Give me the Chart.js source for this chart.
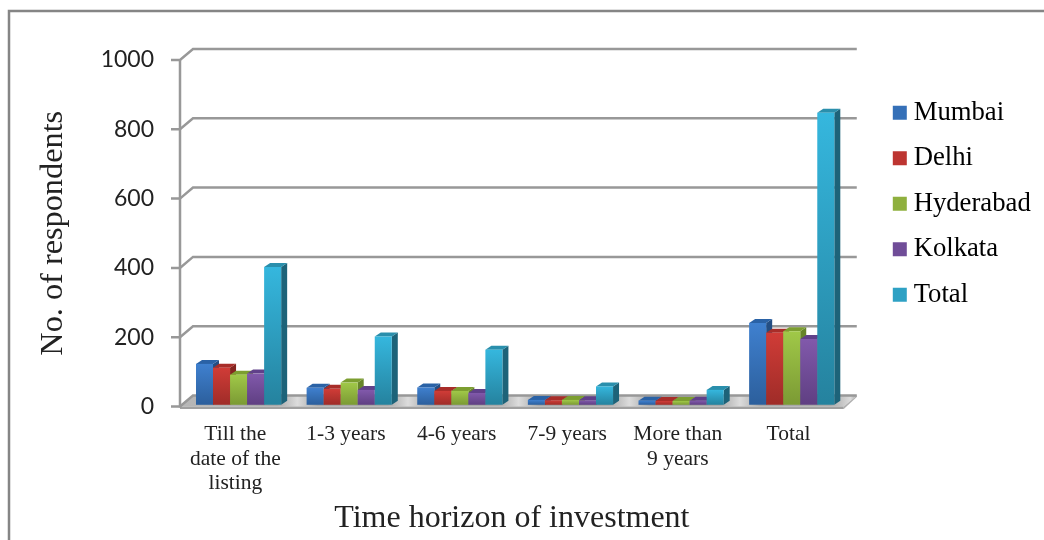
<!DOCTYPE html>
<html>
<head>
<meta charset="utf-8">
<title>Time horizon of investment</title>
<script src="https://cdn.jsdelivr.net/npm/chart.js@4"></script>
<style>
    html, body { margin: 0; padding: 0; background: #fff; }
    #wrap { width: 1044px; height: 540px; overflow: hidden; }
</style>
</head>
<body>
<div id="wrap"><canvas id="myChart" width="1044" height="540"></canvas></div>
<script>
var categorias = [['Till the', 'date of the', 'listing'], '1-3 years', '4-6 years', '7-9 years', ['More than', '9 years'], 'Total'];

var mumbai = [118, 49, 50, 14, 12, 236];
var delhi = [107, 46, 40, 13, 11, 208];
var hyderabad = [87, 64, 40, 14, 11, 212];
var kolkata = [90, 43, 34, 13, 12, 190];
var total = [398, 197, 159, 53, 43, 843];

var escalaY = [0, 200, 400, 600, 800, 1000];

var SERIF = '"Liberation Serif", "Times New Roman", serif';

// colours per series: top of the front face, bottom of the front face, lid, side, legend swatch
var colores = {
    Mumbai: ['#3f80cf', '#2c5f9c', '#2a62a6', '#234e84', '#3570b8'],
    Delhi: ['#d03c37', '#9f2c28', '#a82d29', '#84241f', '#bd3531'],
    Hyderabad: ['#a0c848', '#7b9a34', '#7c9e30', '#66842a', '#8fb03e'],
    Kolkata: ['#8159ab', '#5f3f82', '#60408a', '#4f3570', '#704d98'],
    Total: ['#35b7de', '#25829e', '#2a8fac', '#1d6379', '#2ea1c4']
};

function degradado(nombre) {
    return function (ctx) {
        var chart = ctx.chart;
        if (ctx.type !== 'data' || !chart.scales.y) {
            return colores[nombre][0];
        }
        var yTop = chart.scales.y.getPixelForValue(ctx.parsed.y);
        var yBase = chart.scales.y.getPixelForValue(0);
        var g = chart.ctx.createLinearGradient(0, yTop, 0, yBase);
        g.addColorStop(0, colores[nombre][0]);
        g.addColorStop(1, colores[nombre][1]);
        return g;
    };
}

function serie(nombre, valores) {
    return { label: nombre, data: valores, backgroundColor: degradado(nombre), borderWidth: 0 };
}

// depth of the walls and of the bars
var PARED = { x: 13, y: -11 };
var BARRA = { x: 6, y: -4 };
var DESPLAZA = { x: 3.25, y: -1.7 };

function cara(ctx, puntos, color) {
    ctx.fillStyle = color;
    ctx.beginPath();
    ctx.moveTo(puntos[0][0], puntos[0][1]);
    for (var i = 1; i < puntos.length; i++) {
        ctx.lineTo(puntos[i][0], puntos[i][1]);
    }
    ctx.closePath();
    ctx.fill();
}

var marco3d = {
    id: 'marco3d',
    afterLayout: function (chart) {
        var lg = chart.legend;
        lg.left = 880.5;
        lg.right = 1044;
        lg.top = 80.5;
    },
    beforeDraw: function (chart) {
        var ctx = chart.ctx;
        ctx.save();
        // outer frame, runs off the edge of the page on the right and at the bottom
        ctx.strokeStyle = '#858585';
        ctx.lineWidth = 2.5;
        ctx.beginPath();
        ctx.moveTo(9, 545);
        ctx.lineTo(9, 11);
        ctx.lineTo(1050, 11);
        ctx.stroke();
        ctx.restore();
    },
    beforeDatasetsDraw: function (chart) {
        var ctx = chart.ctx;
        var y = chart.scales.y;
        var x = chart.scales.x;
        var a = chart.chartArea;
        var fin = a.right + PARED.x;
        var y0 = y.getPixelForValue(0);

        ctx.save();

        // floor
        var suelo = ctx.createLinearGradient(a.left, 0, fin, 0);
        suelo.addColorStop(0, '#b8b8b8');
        for (var i = 0; i < categorias.length; i++) {
            var p = (x.getPixelForValue(i) + 62 - a.left) / (fin - a.left);
            suelo.addColorStop(Math.max(0, Math.min(1, p - 0.03)), '#a8a8a8');
            suelo.addColorStop(Math.min(1, p), '#dcdcdc');
            suelo.addColorStop(Math.min(1, p + 0.03), '#a8a8a8');
        }
        cara(ctx, [[a.left, y0], [a.left + PARED.x, y0 + PARED.y], [fin, y0 + PARED.y], [a.right, y0]], suelo);
        cara(ctx, [[a.left, y0], [a.right, y0], [a.right, y0 + 2.5], [a.left, y0 + 2.5]], '#a0a0a0');
        cara(ctx, [[a.right, y0], [fin, y0 + PARED.y], [fin, y0 + PARED.y + 1.5], [a.right, y0 + 2.5]], '#b0b0b0');

        // tick marks, wall diagonals and back grid lines
        ctx.strokeStyle = '#989898';
        ctx.lineWidth = 2.5;
        escalaY.forEach(function (v) {
            var py = y.getPixelForValue(v);
            ctx.beginPath();
            ctx.moveTo(a.left - 9, py);
            ctx.lineTo(a.left, py);
            ctx.lineTo(a.left + PARED.x, py + PARED.y);
            ctx.lineTo(fin, py + PARED.y);
            ctx.stroke();
        });

        // left wall
        ctx.beginPath();
        ctx.moveTo(a.left, y.getPixelForValue(1000));
        ctx.lineTo(a.left, y0 + 1);
        ctx.stroke();

        // bars go left to right so each front covers the side of its neighbour
        ctx.translate(DESPLAZA.x, DESPLAZA.y);
        chart.data.datasets.forEach(function (ds, d) {
            var tonos = colores[ds.label];
            chart.getDatasetMeta(d).data.forEach(function (bar) {
                var p = bar.getProps(['x', 'y', 'base', 'width'], true);
                var izq = p.x - p.width / 2;
                var der = p.x + p.width / 2;
                cara(ctx, [[der, p.y], [der + BARRA.x, p.y + BARRA.y], [der + BARRA.x, p.base + BARRA.y], [der, p.base]], tonos[3]);
                cara(ctx, [[izq, p.y], [izq + BARRA.x, p.y + BARRA.y], [der + BARRA.x, p.y + BARRA.y], [der, p.y]], tonos[2]);
                bar.draw(ctx);
            });
        });

        ctx.restore();
        return false;
    }
};

var ctx = document.getElementById('myChart').getContext('2d');
var chart = new Chart(ctx, {
    type: 'bar',
    data: {
        labels: categorias,
        datasets: [
            serie('Mumbai', mumbai),
            serie('Delhi', delhi),
            serie('Hyderabad', hyderabad),
            serie('Kolkata', kolkata),
            serie('Total', total)
        ]
    },
    plugins: [marco3d],
    options: {
        responsive: false,
        animation: false,
        events: [],
        categoryPercentage: 0.77,
        barPercentage: 1,
        layout: { padding: { top: 60, left: 0, right: 40, bottom: 0 } },
        plugins: {
            tooltip: { enabled: false },
            title: { display: false },
            legend: {
                position: 'right',
                align: 'start',
                labels: {
                    color: '#222222',
                    font: { family: SERIF, size: 26.7, lineHeight: 1 },
                    padding: 18.8,
                    boxWidth: 1,
                    boxHeight: 14,
                    usePointStyle: true,
                    generateLabels: function (chart) {
                        return chart.data.datasets.map(function (ds, i) {
                            return {
                                text: ds.label,
                                fillStyle: colores[ds.label][4],
                                strokeStyle: colores[ds.label][4],
                                lineWidth: 0,
                                pointStyle: 'rect',
                                datasetIndex: i
                            };
                        });
                    }
                }
            }
        },
        scales: {
            x: {
                grid: { display: false },
                border: { display: false },
                ticks: {
                    color: '#222222',
                    font: { family: SERIF, size: 21.5, lineHeight: 1.14 },
                    padding: 8,
                    maxRotation: 0,
                    autoSkip: false
                },
                title: {
                    display: true,
                    text: 'Time horizon of investment',
                    color: '#222222',
                    font: { family: SERIF, size: 32 },
                    padding: { top: 0, bottom: 2 }
                },
                afterFit: function (scale) { scale.height = 133.5; }
            },
            y: {
                min: 0,
                max: 1000,
                grid: { display: false },
                border: { display: false },
                afterBuildTicks: function (scale) {
                    scale.ticks = escalaY.map(function (v) { return { value: v }; });
                },
                ticks: {
                    color: '#222222',
                    font: { family: 'Lato', size: 23 },
                    padding: 18,
                    callback: function (v) { return String(v); }
                },
                title: {
                    display: true,
                    text: 'No. of respondents',
                    color: '#222222',
                    font: { family: SERIF, size: 32.3 },
                    padding: { top: 34, bottom: 0 }
                },
                afterFit: function (scale) { scale.width = 180; }
            }
        }
    }
});
</script>
</body>
</html>
